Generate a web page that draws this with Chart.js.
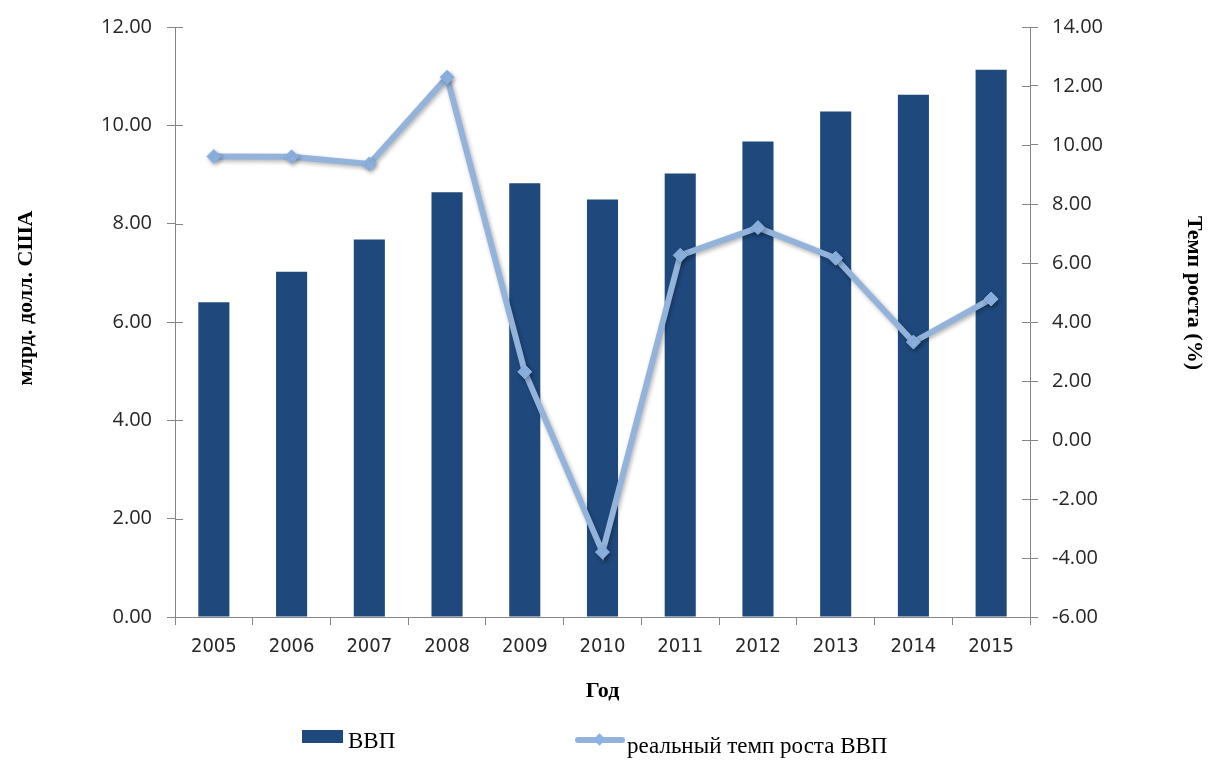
<!DOCTYPE html>
<html>
<head>
<meta charset="utf-8">
<script src="https://cdn.jsdelivr.net/npm/chart.js@4/dist/chart.umd.min.js"></script>
<style>
html, body { margin: 0; padding: 0; background: #ffffff; }
#wrap { position: relative; width: 1208px; height: 760px; overflow: hidden; }
canvas { display: block; }
.legtext { position: absolute; font-family: 'Liberation Serif', 'Times New Roman', serif; font-size: 23px; line-height: 23px; color: #000; white-space: nowrap; }
.legbox { position: absolute; background: #1F497D; }
.legline { position: absolute; background: #93B3DA; border-radius: 3px; }
.legdiamond { position: absolute; background: #8DB3E2; transform: rotate(45deg); }
</style>
</head>
<body>
<div id="wrap">
  <canvas id="c" width="1208" height="760"></canvas>
  <div class="legbox" style="left:302px; top:730px; width:41px; height:13px;"></div>
  <div class="legtext" id="leg1" style="left:348px; top:729px;"></div>
  <div class="legline" style="left:575px; top:737px; width:50px; height:6px;"></div>
  <div class="legdiamond" style="left:595px; top:735px; width:9px; height:9px;"></div>
  <div class="legtext" id="leg2" style="left:627px; top:734px;"></div>
</div>
<script>
// ---- data ----
const categories = ['2005', '2006', '2007', '2008', '2009', '2010', '2011', '2012', '2013', '2014', '2015'];
const gdpValues = [6.40, 7.02, 7.68, 8.64, 8.82, 8.49, 9.02, 9.67, 10.28, 10.62, 11.13];
const growthValues = [9.61, 9.60, 9.36, 12.30, 2.31, -3.80, 6.26, 7.20, 6.16, 3.32, 4.78];
const seriesNames = ['ВВП', 'реальный темп роста ВВП'];
const leftAxisRange = [0, 12];
const rightAxisRange = [-6, 14];
const tickStep = [2];
const axisTitles = ['Год', 'млрд. долл. США', 'Темп роста (%)'];

document.getElementById('leg1').textContent = seriesNames[0];
document.getElementById('leg2').textContent = seriesNames[1];

const AXIS_COLOR = '#868686';
const TICK_TEXT = '#262626';
const SANS = "'Open Sans', 'DejaVu Sans', sans-serif";
const COND = "'Liberation Sans Narrow', 'DejaVu Sans Condensed', 'DejaVu Sans', sans-serif";
const SERIF = "'Liberation Serif', 'Times New Roman', serif";

const innerTicks = {
  id: 'innerTicks',
  beforeDatasetsDraw(chart) {
    const ctx = chart.ctx;
    ctx.save();
    ctx.strokeStyle = AXIS_COLOR;
    ctx.lineWidth = 1;
    ['y', 'y1'].forEach(id => {
      const s = chart.scales[id];
      const x = id === 'y' ? s.right : s.left;
      const dir = id === 'y' ? 1 : -1;
      s.ticks.forEach((t, i) => {
        const py = Math.round(s.getPixelForTick(i)) + 0.5;
        ctx.beginPath();
        ctx.moveTo(x, py);
        ctx.lineTo(x + dir * 8, py);
        ctx.stroke();
      });
    });
    ctx.restore();
  }
};

// y-axis titles, placed relative to each axis box (slightly above the axis middle, as in the original)
const sideTitles = {
  id: 'sideTitles',
  afterDraw(chart) {
    const ctx = chart.ctx;
    const ca = chart.chartArea;
    const midY = (ca.top + ca.bottom) / 2;
    ctx.save();
    ctx.fillStyle = '#000';
    ctx.font = 'bold 22px ' + SERIF;
    ctx.textAlign = 'center';
    ctx.textBaseline = 'middle';
    const l = chart.scales.y;
    ctx.save();
    ctx.translate(l.left + 26, midY - 24);
    ctx.rotate(-Math.PI / 2);
    ctx.fillText(axisTitles[1], 0, 0);
    ctx.restore();
    const r = chart.scales.y1;
    ctx.save();
    ctx.translate(r.right - 14, midY - 29);
    ctx.rotate(Math.PI / 2);
    ctx.fillText(axisTitles[2], 0, 0);
    ctx.restore();
    ctx.restore();
  }
};

const lineShadow = {
  id: 'lineShadow',
  beforeDatasetDraw(chart, args) {
    if (args.index === 1) {
      const ctx = chart.ctx;
      ctx.save();
      ctx.shadowColor = 'rgba(0,0,0,0.30)';
      ctx.shadowBlur = 4;
      ctx.shadowOffsetX = 1.5;
      ctx.shadowOffsetY = 2;
    }
  },
  afterDatasetDraw(chart, args) {
    if (args.index === 1) chart.ctx.restore();
  }
};

new Chart(document.getElementById('c'), {
  type: 'bar',
  data: {
    labels: categories,
    datasets: [
      {
        type: 'bar',
        label: seriesNames[0],
        data: gdpValues,
        backgroundColor: '#1F497D',
        borderWidth: 0,
        barPercentage: 0.8,
        categoryPercentage: 0.5,
        yAxisID: 'y',
        order: 2
      },
      {
        type: 'line',
        label: seriesNames[1],
        data: growthValues,
        borderColor: '#93B3DA',
        backgroundColor: '#8DB3E2',
        borderWidth: 6,
        pointStyle: 'rectRot',
        pointRadius: 7,
        pointBorderWidth: 1,
        pointBorderColor: '#8DB3E2',
        pointBackgroundColor: '#8DB3E2',
        tension: 0,
        fill: false,
        yAxisID: 'y1',
        order: 1
      }
    ]
  },
  options: {
    responsive: false,
    animation: false,
    layout: { padding: { top: 24, bottom: 55, left: 0, right: 0 } },
    plugins: { legend: { display: false }, tooltip: { enabled: false } },
    scales: {
      x: {
        offset: true,
        grid: { drawOnChartArea: false, drawTicks: true, tickLength: 8, color: AXIS_COLOR, offset: true },
        border: { display: true, color: AXIS_COLOR, width: 1 },
        ticks: { font: { family: COND, size: 20 }, color: TICK_TEXT, padding: 10, maxRotation: 0 },
        title: { display: true, text: axisTitles[0], color: '#000', font: { family: SERIF, size: 22, weight: 'bold' }, padding: { top: 0, bottom: 0 } },
        afterFit(s) { s.height = 88; }
      },
      y: {
        position: 'left',
        min: leftAxisRange[0],
        max: leftAxisRange[1],
        grid: { drawOnChartArea: false, drawTicks: true, tickLength: 8, color: AXIS_COLOR },
        border: { display: true, color: AXIS_COLOR, width: 1 },
        ticks: { stepSize: tickStep[0], callback: v => Number(v).toFixed(2), font: { family: SANS, size: 20 }, color: TICK_TEXT, padding: 15 },
        title: { display: false, text: axisTitles[1] },
        afterFit(s) { s.width = 175; }
      },
      y1: {
        position: 'right',
        min: rightAxisRange[0],
        max: rightAxisRange[1],
        grid: { drawOnChartArea: false, drawTicks: true, tickLength: 8, color: AXIS_COLOR },
        border: { display: true, color: AXIS_COLOR, width: 1 },
        ticks: { stepSize: tickStep[0], callback: v => Number(v).toFixed(2), font: { family: SANS, size: 20 }, color: TICK_TEXT, padding: 14 },
        title: { display: false, text: axisTitles[2] },
        afterFit(s) { s.width = 178; }
      }
    }
  },
  plugins: [innerTicks, lineShadow, sideTitles]
});
</script>
</body>
</html>
